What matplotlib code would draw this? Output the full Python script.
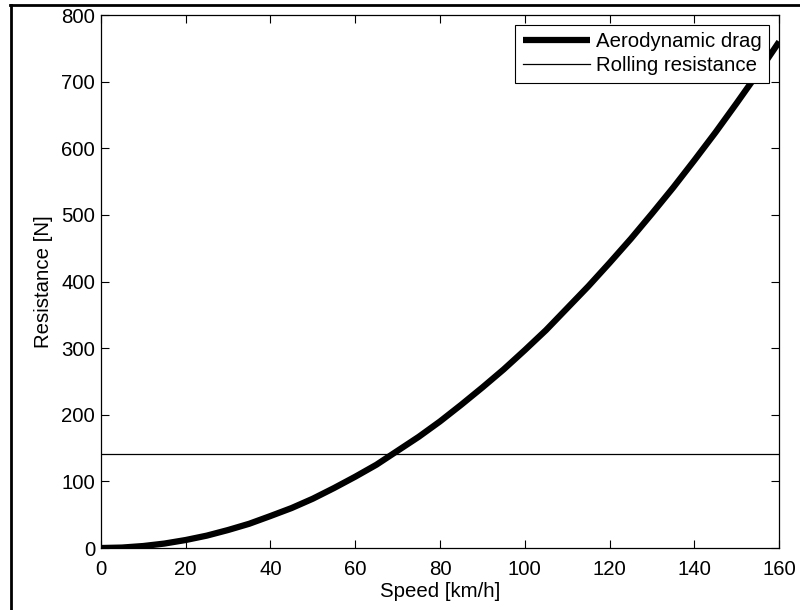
import matplotlib
matplotlib.use("Agg")
import matplotlib.pyplot as plt
from matplotlib.lines import Line2D

speed = [0, 5, 10, 15, 20, 25, 30, 35, 40, 45, 50, 55, 60, 65, 70, 75, 80,
         85, 90, 95, 100, 105, 110, 115, 120, 125, 130, 135, 140, 145, 150, 155, 160]
drag = [0, 0.7, 3, 6.7, 12, 18.6, 27, 36.4, 48, 60, 74, 90, 107, 125, 146, 167, 190,
        215, 241, 268, 297, 327, 360, 393, 428, 464, 502, 541, 582, 624, 668, 713, 760]
rolling = [141, 141]
rolling_x = [0, 160]
xticks = [0, 20, 40, 60, 80, 100, 120, 140, 160]
yticks = [0, 100, 200, 300, 400, 500, 600, 700, 800]

plt.rcParams['font.family'] = ['Liberation Sans', 'DejaVu Sans']
FS = 14.7

fig = plt.figure(figsize=(8, 6.1), dpi=100)
ax = fig.add_axes([0.126, 0.1016, 0.848, 0.8738])

ax.plot(speed, drag, color='black', lw=4.5, solid_capstyle='butt', solid_joinstyle='round',
        label='Aerodynamic drag')
ax.plot(rolling_x, rolling, color='black', lw=0.9, label='Rolling resistance')

ax.set_xlim(0, 160)
ax.set_ylim(0, 800)
ax.set_xticks(xticks)
ax.set_yticks(yticks)
ax.tick_params(direction='in', length=6, width=0.8, top=True, right=True, labelsize=FS)
ax.tick_params(axis='x', pad=8.5)
ax.tick_params(axis='y', pad=4)
for s in ax.spines.values():
    s.set_linewidth(0.9)

ax.set_xlabel('Speed [km/h]', fontsize=FS, labelpad=2)
ax.set_ylabel('Resistance [N]', fontsize=FS, labelpad=6)

leg = ax.legend(loc='upper right', fontsize=FS, fancybox=False, framealpha=1,
                edgecolor='black', handlelength=3.3, handletextpad=0.3,
                borderpad=0.35, labelspacing=0.25, borderaxespad=0.5)
leg.get_frame().set_linewidth(0.8)

# figure border (top and left)
fig.add_artist(Line2D([10/800, 1], [1 - 5/610, 1 - 5/610], transform=fig.transFigure, color='black', lw=2))
fig.add_artist(Line2D([11/800, 11/800], [0, 1 - 5/610], transform=fig.transFigure, color='black', lw=2))

fig.savefig('out.png', dpi=100)
